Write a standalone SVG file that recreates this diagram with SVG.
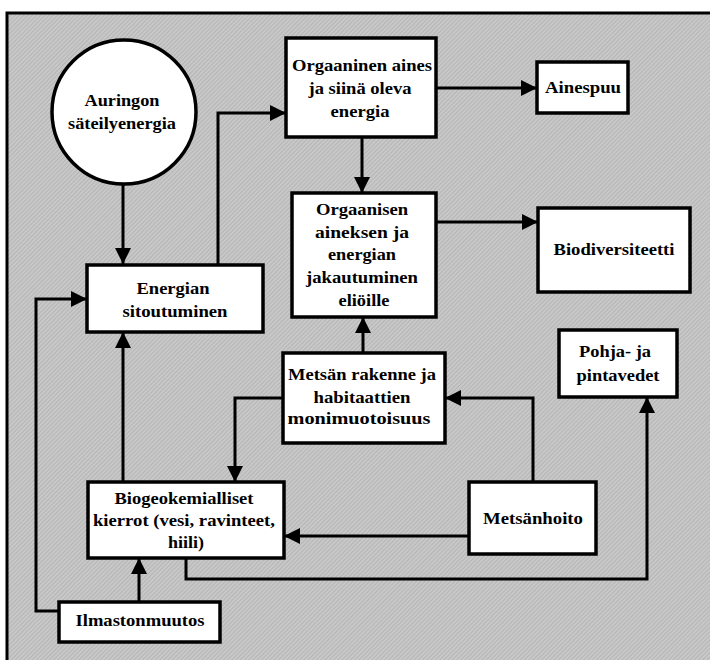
<svg xmlns="http://www.w3.org/2000/svg" width="710" height="660" viewBox="0 0 710 660">
<defs>
<pattern id="hatch" width="3" height="3" patternUnits="userSpaceOnUse" patternTransform="rotate(45)">
<rect width="3" height="3" fill="#c8c8c8"/>
<line x1="0" y1="0" x2="0" y2="3" stroke="#a9a9a9" stroke-width="1.2"/>
</pattern>
<marker id="arr" viewBox="0 0 16 16" refX="16" refY="8" markerWidth="16" markerHeight="16" markerUnits="userSpaceOnUse" orient="auto">
<path d="M0,0 L16,8 L0,16 Z" fill="#000"/>
</marker>
<style>
.box{fill:#fff;stroke:#000;stroke-width:3.5}
.t{font-family:'Liberation Serif','DejaVu Serif',serif;font-weight:bold;font-size:17px;text-anchor:middle;fill:#000}
.c{fill:none;stroke:#000;stroke-width:3;marker-end:url(#arr)}
</style>
</defs>
<rect x="7" y="13" width="720" height="680" fill="url(#hatch)" stroke="#000" stroke-width="3"/>
<g id="connectors">
<path class="c" d="M123,184 V264"/>
<path class="c" d="M218,264 V113 H286"/>
<path class="c" d="M437,88 H537"/>
<path class="c" d="M362,137 V193"/>
<path class="c" d="M436,222 H538"/>
<path class="c" d="M363,353 V317"/>
<path class="c" d="M283,398 H235 V482"/>
<path class="c" d="M123,482 V332"/>
<path class="c" d="M533,482 V398 H445"/>
<path class="c" d="M469,536 H284"/>
<path class="c" d="M186,558 V579 H647 V397"/>
<path class="c" d="M139,602 V558"/>
<path class="c" d="M59,611 H36 V299 H87"/>
</g>
<g id="aurinko">
<circle cx="124" cy="112" r="72" class="box"/>
<text class="t" x="122" y="106" textLength="75" lengthAdjust="spacingAndGlyphs">Auringon</text>
<text class="t" x="122" y="129" textLength="108" lengthAdjust="spacingAndGlyphs">säteilyenergia</text>
</g>
<g id="energian">
<rect class="box" x="87" y="265" width="176" height="67"/>
<text class="t" x="173" y="294" textLength="73" lengthAdjust="spacingAndGlyphs">Energian</text>
<text class="t" x="175" y="317" textLength="105" lengthAdjust="spacingAndGlyphs">sitoutuminen</text>
</g>
<g id="orgaaninen">
<rect class="box" x="286" y="38" width="150" height="99"/>
<text class="t" x="362" y="71" textLength="140" lengthAdjust="spacingAndGlyphs">Orgaaninen aines</text>
<text class="t" x="360" y="94" textLength="103" lengthAdjust="spacingAndGlyphs">ja siinä oleva</text>
<text class="t" x="360" y="117" textLength="59" lengthAdjust="spacingAndGlyphs">energia</text>
</g>
<g id="ainespuu">
<rect class="box" x="537" y="62" width="91" height="51"/>
<text class="t" x="583" y="93" textLength="76" lengthAdjust="spacingAndGlyphs">Ainespuu</text>
</g>
<g id="orgaanisen">
<rect class="box" x="292" y="193" width="144" height="124"/>
<text class="t" x="362" y="215" textLength="92" lengthAdjust="spacingAndGlyphs">Orgaanisen</text>
<text class="t" x="362" y="238" textLength="94" lengthAdjust="spacingAndGlyphs">aineksen  ja</text>
<text class="t" x="362" y="260" textLength="68" lengthAdjust="spacingAndGlyphs">energian</text>
<text class="t" x="362" y="283" textLength="112" lengthAdjust="spacingAndGlyphs">jakautuminen</text>
<text class="t" x="364" y="306" textLength="51" lengthAdjust="spacingAndGlyphs">eliöille</text>
</g>
<g id="biodiversiteetti">
<rect class="box" x="538" y="208" width="152" height="84"/>
<text class="t" x="614" y="255" textLength="121" lengthAdjust="spacingAndGlyphs">Biodiversiteetti</text>
</g>
<g id="metsan-rakenne">
<rect class="box" x="283" y="353" width="162" height="90"/>
<text class="t" x="362" y="380" textLength="148" lengthAdjust="spacingAndGlyphs">Metsän rakenne ja</text>
<text class="t" x="362" y="403" textLength="97" lengthAdjust="spacingAndGlyphs">habitaattien</text>
<text class="t" x="359" y="424" textLength="143" lengthAdjust="spacingAndGlyphs">monimuotoisuus</text>
</g>
<g id="pohja">
<rect class="box" x="559" y="330" width="118" height="67"/>
<text class="t" x="615" y="357" textLength="72" lengthAdjust="spacingAndGlyphs">Pohja- ja</text>
<text class="t" x="618" y="381" textLength="83" lengthAdjust="spacingAndGlyphs">pintavedet</text>
</g>
<g id="biogeo">
<rect class="box" x="88" y="482" width="196" height="76"/>
<text class="t" x="184" y="504" textLength="139" lengthAdjust="spacingAndGlyphs">Biogeokemialliset</text>
<text class="t" x="184" y="526" textLength="182" lengthAdjust="spacingAndGlyphs">kierrot (vesi, ravinteet,</text>
<text class="t" x="186" y="548" textLength="36" lengthAdjust="spacingAndGlyphs">hiili)</text>
</g>
<g id="metsanhoito">
<rect class="box" x="469" y="482" width="127" height="72"/>
<text class="t" x="533" y="524" textLength="100" lengthAdjust="spacingAndGlyphs">Metsänhoito</text>
</g>
<g id="ilmasto">
<rect class="box" x="59" y="602" width="161" height="40"/>
<text class="t" x="140" y="626" textLength="129" lengthAdjust="spacingAndGlyphs">Ilmastonmuutos</text>
</g>
</svg>
